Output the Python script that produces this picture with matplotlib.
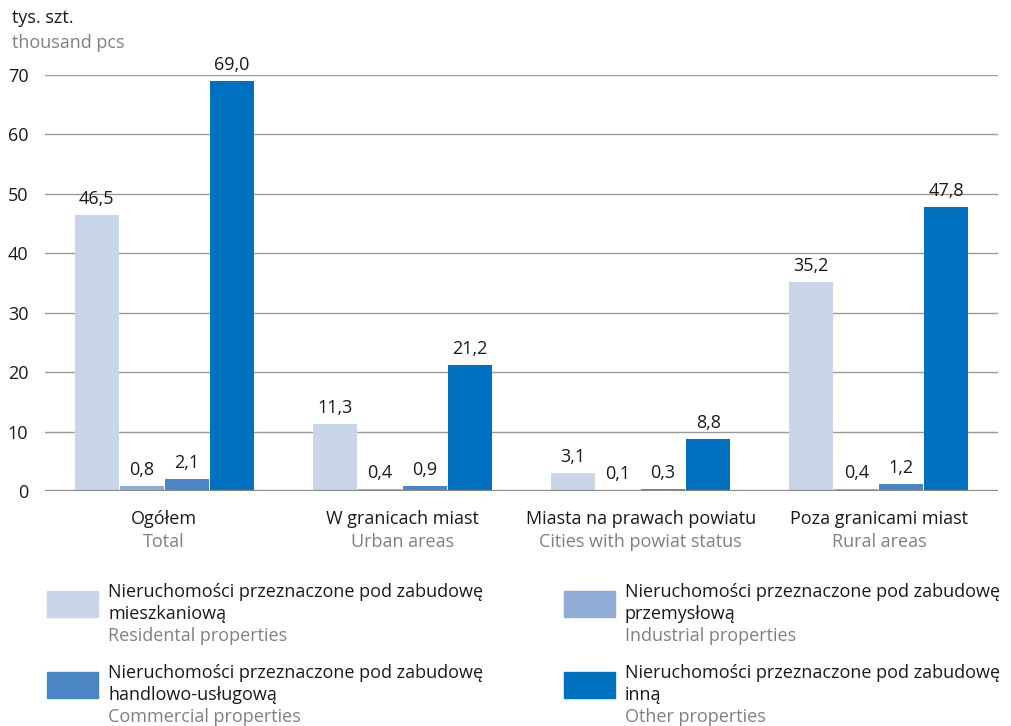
import matplotlib
matplotlib.use("Agg")
import matplotlib.pyplot as plt
import numpy as np

plt.rcParams['font.family'] = ['Open Sans', 'DejaVu Sans']

categories_pl = ["Ogółem", "W granicach miast", "Miasta na prawach powiatu", "Poza granicami miast"]
categories_en = ["Total", "Urban areas", "Cities with powiat status", "Rural areas"]
residential = [46.5, 11.3, 3.1, 35.2]
industrial = [0.8, 0.4, 0.1, 0.4]
commercial = [2.1, 0.9, 0.3, 1.2]
other = [69.0, 21.2, 8.8, 47.8]
series = [residential, industrial, commercial, other]
series_pl = [["Nieruchomości przeznaczone pod zabudowę", "mieszkaniową"],
             ["Nieruchomości przeznaczone pod zabudowę", "przemysłową"],
             ["Nieruchomości przeznaczone pod zabudowę", "handlowo-usługową"],
             ["Nieruchomości przeznaczone pod zabudowę", "inną"]]
series_en = ["Residental properties", "Industrial properties", "Commercial properties", "Other properties"]
colors = ["#C9D5E9", "#8FACD6", "#4A86C5", "#0070C0"]
yticks = [0, 10, 20, 30, 40, 50, 60, 70]

FS = 13
W, H = 1011, 726
fig = plt.figure(figsize=(W/100, H/100), dpi=100)
ax = fig.add_axes([45/W, 1-491/H, (998-45)/W, (491-75)/H])
ax.set_xlim(-0.5, 3.5)
ax.set_ylim(0, 70)

slot = 45/238.25
bw = 44/238.25
x = np.arange(len(categories_pl))
for i, (vals, c) in enumerate(zip(series, colors)):
    pos = x + (i - 1.5) * slot
    ax.bar(pos, vals, width=bw, color=c, zorder=3)
    for p, v in zip(pos, vals):
        ax.annotate(f"{v:.1f}".replace(".", ","), (p, v), xytext=(0, 5),
                    textcoords="offset points", ha="center", va="bottom",
                    fontsize=FS, color="#1a1a1a")

for t in yticks[1:]:
    ax.axhline(t, color="#9a9a9a", lw=1.0, zorder=1)
ax.axhline(0, color="#8a8a8a", lw=1.6, zorder=4)
for s in ax.spines.values():
    s.set_visible(False)
ax.set_yticks(yticks)
ax.set_yticklabels([str(t) for t in yticks], fontsize=FS, color="#1a1a1a")
ax.tick_params(axis="y", length=0, pad=12)
ax.set_xticks([])

for xi, pl, en in zip(x, categories_pl, categories_en):
    ax.annotate(pl, (xi, 0), xycoords=("data", "axes fraction"), xytext=(0, -20),
                textcoords="offset points", ha="center", va="center", fontsize=FS, color="#1a1a1a")
    ax.annotate(en, (xi, 0), xycoords=("data", "axes fraction"), xytext=(0, -37),
                textcoords="offset points", ha="center", va="center", fontsize=FS, color="#808080")

fig.text(12/W, 1-18/H, "tys. szt.", fontsize=FS, color="#1a1a1a", va="center", ha="left")
fig.text(12/W, 1-43/H, "thousand pcs", fontsize=FS, color="#808080", va="center", ha="left")

# legend
leg_pos = [(47, 591), (564, 591), (47, 672), (564, 672)]
for (lx, ly), pl, en, c in zip(leg_pos, series_pl, series_en, colors):
    fig.patches.append(plt.Rectangle((lx/W, 1-(ly+26)/H), 51/W, 26/H,
                                     transform=fig.transFigure, color=c))
    tx = lx + 61
    fig.text(tx/W, 1-(ly+1)/H, pl[0], fontsize=FS, color="#1a1a1a", va="center", ha="left")
    fig.text(tx/W, 1-(ly+23)/H, pl[1], fontsize=FS, color="#1a1a1a", va="center", ha="left")
    fig.text(tx/W, 1-(ly+45)/H, en, fontsize=FS, color="#808080", va="center", ha="left")

fig.savefig("out.png", dpi=100)
